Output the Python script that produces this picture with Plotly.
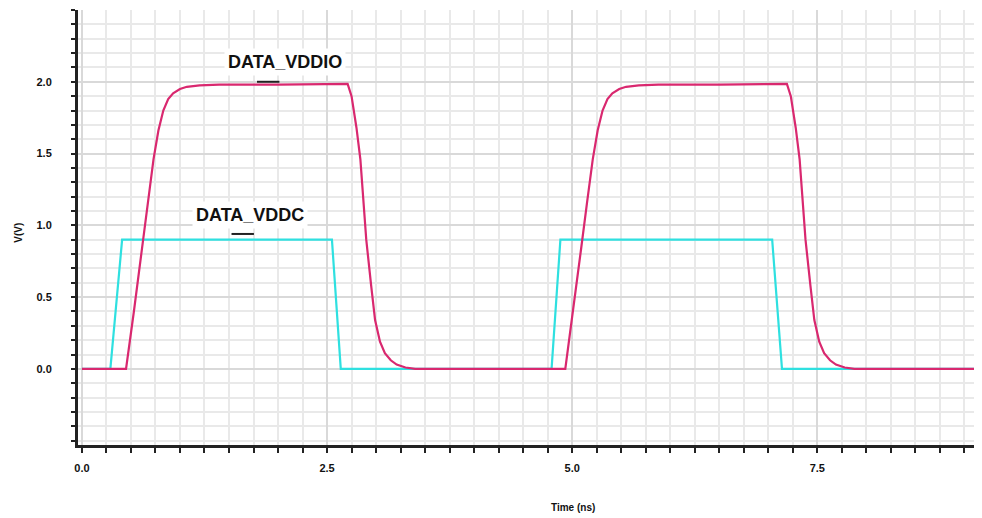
import plotly.graph_objects as go

# DATA_VDDC (cyan) waveform
vddc_t = [0.0, 0.29, 0.41, 2.55, 2.64, 4.79, 4.88, 7.04, 7.14, 9.3]
vddc_v = [0.0, 0.0, 0.9, 0.9, 0.0, 0.0, 0.9, 0.9, 0.0, 0.0]

# DATA_VDDIO (magenta) waveform
vddio_t = [0.0, 0.45, 0.53, 0.61, 0.67, 0.73, 0.78, 0.83, 0.88, 0.93, 1.00, 1.07, 1.20, 1.40, 2.00,
           2.71, 2.75, 2.80, 2.84, 2.90, 2.95, 2.99, 3.04, 3.09, 3.15, 3.21, 3.30, 3.40,
           4.93, 5.01, 5.09, 5.15, 5.21, 5.26, 5.31, 5.36, 5.41, 5.48, 5.55, 5.68, 5.88, 6.50,
           7.19, 7.23, 7.28, 7.32, 7.38, 7.43, 7.47, 7.52, 7.57, 7.63, 7.69, 7.78, 7.88, 9.3]
vddio_v = [0.0, 0.0, 0.40, 0.83, 1.15, 1.46, 1.66, 1.80, 1.88, 1.92, 1.95, 1.965, 1.975, 1.98, 1.98,
           1.985, 1.90, 1.68, 1.46, 0.90, 0.58, 0.34, 0.19, 0.11, 0.06, 0.03, 0.01, 0.0,
           0.0, 0.40, 0.83, 1.15, 1.46, 1.66, 1.80, 1.88, 1.92, 1.95, 1.965, 1.975, 1.98, 1.98,
           1.985, 1.90, 1.68, 1.46, 0.90, 0.58, 0.34, 0.19, 0.11, 0.06, 0.03, 0.01, 0.0, 0.0]

labels = ["DATA_VDDIO", "DATA_VDDC"]
label_t = [2.07, 1.71]
label_v = [2.14, 1.07]
marker_t = [1.90, 1.64]
marker_v = [2.0, 0.94]

y_ticks = [0.0, 0.5, 1.0, 1.5, 2.0]
y_ticktext = ["0.0", "0.5", "1.0", "1.5", "2.0"]
x_ticks = [0.0, 2.5, 5.0, 7.5]
x_ticktext = ["0.0", "2.5", "5.0", "7.5"]

FONT = "Liberation Sans, Arial, sans-serif"

fig = go.Figure()
fig.add_trace(go.Scatter(x=vddc_t, y=vddc_v, mode="lines",
                         line=dict(color="#2fe0e0", width=2.2), showlegend=False))
fig.add_trace(go.Scatter(x=vddio_t, y=vddio_v, mode="lines",
                         line=dict(color="#d9286f", width=2.2), showlegend=False))
fig.add_trace(go.Scatter(x=marker_t, y=marker_v, mode="markers",
                         marker=dict(symbol="line-ew", size=16, line=dict(color="#222222", width=2)),
                         showlegend=False))

for txt, t, v in zip(labels, label_t, label_v):
    fig.add_annotation(x=t, y=v, text="<b>" + txt + "</b>", showarrow=False,
                       font=dict(family=FONT, size=18, color="#111111"),
                       bgcolor="white", borderpad=3)

# axis titles (paper coords relative to the plot area)
fig.add_annotation(x=0.548, y=-0.161, xref="paper", yref="paper", text="<b>Time (ns)</b>",
                   showarrow=False, font=dict(family=FONT, size=10, color="#111111"))
fig.add_annotation(x=-0.074, y=0.487, xref="paper", yref="paper",
                   text="<b>V(V)</b>", textangle=-90, showarrow=False,
                   font=dict(family=FONT, size=10, color="#111111"))

# page body has an 8px margin: compensate so the plot area lands where the reference has it
fig.update_layout(
    width=974, height=510,
    margin=dict(l=70, r=0, t=2, b=73),
    paper_bgcolor="white", plot_bgcolor="white",
    font=dict(family=FONT, color="#111111"),
)

fig.update_xaxes(
    range=[-0.04, 9.18], automargin=False,
    tickmode="array", tickvals=x_ticks, ticktext=x_ticktext,
    tickfont=dict(family=FONT, size=11, color="#111111", weight="bold"),
    ticks="outside", ticklen=5, tickwidth=2, tickcolor="#222222",
    ticklabelstandoff=6,
    showline=True, linecolor="#222222", linewidth=3,
    showgrid=True, gridcolor="#d9d9d9", gridwidth=2,
    zeroline=False,
    minor=dict(dtick=0.25, tick0=0, ticks="outside", ticklen=5, tickwidth=2, tickcolor="#222222",
               showgrid=True, gridcolor="#e9e9e9", gridwidth=2),
)

fig.update_yaxes(
    range=[-0.53, 2.50], automargin=False,
    tickmode="array", tickvals=y_ticks, ticktext=y_ticktext,
    tickfont=dict(family=FONT, size=11, color="#111111", weight="bold"),
    ticks="outside", ticklen=4, tickwidth=2, tickcolor="#222222",
    ticklabelstandoff=17,
    showline=True, linecolor="#222222", linewidth=3,
    showgrid=True, gridcolor="#d9d9d9", gridwidth=2,
    zeroline=False,
    minor=dict(dtick=0.1, tick0=0, ticks="outside", ticklen=4, tickwidth=2, tickcolor="#222222",
               showgrid=True, gridcolor="#e9e9e9", gridwidth=2),
)

fig.write_html("out.html")
